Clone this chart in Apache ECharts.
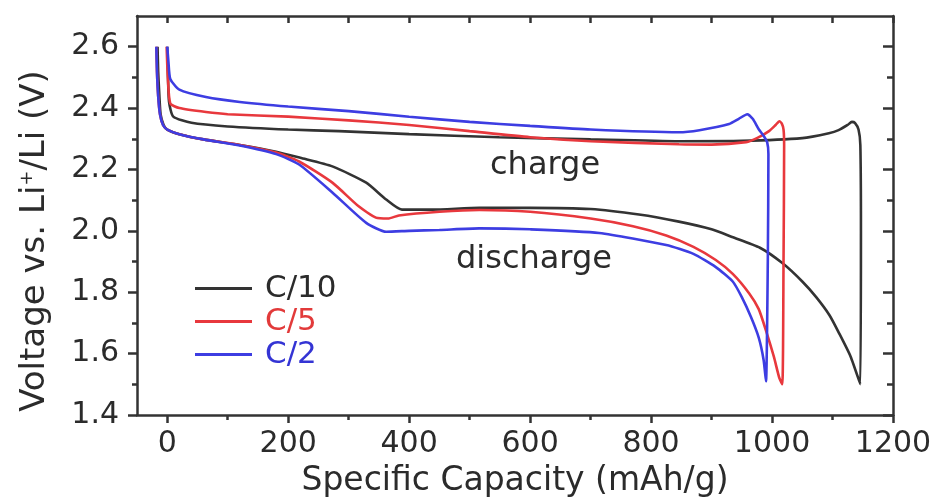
<!DOCTYPE html>
<html>
<head>
<meta charset="utf-8">
<script src="https://cdn.jsdelivr.net/npm/echarts@6/dist/echarts.min.js"></script>
<style>
html,body{margin:0;padding:0;background:#fff;}
#chart{width:939px;height:504px;}
</style>
</head>
<body>
<div id="chart"></div>
<script>
// ---------- data ----------
const seriesNames = ['C/10', 'C/5', 'C/2'];

const c10DischargeCap = [-16, -15, -13, -11, -6, 0, 20, 60, 120, 180, 220, 273, 329, 362, 388, 438, 516, 600, 700, 780, 846, 900, 934, 980, 1017, 1050, 1073, 1095, 1111, 1130, 1146];
const c10DischargeV   = [2.60, 2.52, 2.44, 2.38, 2.345, 2.33, 2.315, 2.298, 2.28, 2.258, 2.238, 2.21, 2.157, 2.102, 2.069, 2.069, 2.075, 2.075, 2.071, 2.053, 2.03, 2.005, 1.98, 1.945, 1.895, 1.835, 1.784, 1.725, 1.666, 1.59, 1.50];
const c10ChargeCap = [1146, 1147, 1146, 1143, 1137, 1132, 1125, 1110, 1094, 1050, 950, 846, 700, 549, 400, 284, 200, 100, 40, 10, 3, 1, 0];
const c10ChargeV   = [1.50, 2.00, 2.28, 2.33, 2.352, 2.355, 2.345, 2.328, 2.318, 2.302, 2.293, 2.292, 2.298, 2.305, 2.315, 2.325, 2.33, 2.34, 2.352, 2.372, 2.42, 2.52, 2.60];

const c5DischargeCap = [-18, -17, -15, -12, -7, 0, 20, 60, 120, 180, 218, 273, 317, 345, 365, 383, 450, 516, 600, 700, 770, 825, 870, 907, 935, 962, 978, 990, 1003, 1012, 1017];
const c5DischargeV   = [2.60, 2.52, 2.44, 2.38, 2.345, 2.33, 2.315, 2.298, 2.28, 2.255, 2.226, 2.157, 2.079, 2.043, 2.040, 2.050, 2.062, 2.068, 2.062, 2.040, 2.015, 1.985, 1.948, 1.905, 1.86, 1.797, 1.745, 1.675, 1.59, 1.521, 1.50];
const c5ChargeCap = [1017, 1019, 1020, 1019, 1016, 1012, 1006, 995, 975, 957, 900, 846, 700, 600, 500, 400, 300, 200, 100, 64, 20, 5, 1, -1];
const c5ChargeV   = [1.50, 1.90, 2.28, 2.33, 2.35, 2.357, 2.345, 2.325, 2.302, 2.289, 2.281, 2.282, 2.292, 2.305, 2.325, 2.345, 2.360, 2.372, 2.38, 2.387, 2.40, 2.415, 2.50, 2.60];

const c2DischargeCap = [-18, -17, -15, -12, -7, 0, 20, 60, 120, 180, 218, 273, 329, 362, 400, 450, 516, 600, 714, 825, 870, 907, 935, 950, 965, 978, 986, 990];
const c2DischargeV   = [2.60, 2.52, 2.44, 2.38, 2.345, 2.33, 2.315, 2.298, 2.278, 2.25, 2.216, 2.125, 2.026, 1.997, 2.0, 2.003, 2.008, 2.005, 1.993, 1.954, 1.925, 1.882, 1.835, 1.784, 1.72, 1.652, 1.58, 1.51];
const c2ChargeCap = [990, 993, 994, 992, 986, 978, 968, 959, 945, 929, 880, 846, 700, 600, 500, 400, 300, 200, 120, 64, 20, 5, 2, 0];
const c2ChargeV   = [1.51, 1.90, 2.25, 2.288, 2.31, 2.331, 2.365, 2.380, 2.365, 2.348, 2.328, 2.321, 2.330, 2.342, 2.355, 2.372, 2.39, 2.405, 2.42, 2.436, 2.46, 2.495, 2.55, 2.60];

const xMajorTicks = [0, 200, 400, 600, 800, 1000, 1200];
const xMinorTicks = [100, 300, 500, 700, 900, 1100];
const yMajorTicks = [1.4, 1.6, 1.8, 2.0, 2.2, 2.4, 2.6];
const yMinorTicks = [1.5, 1.7, 1.9, 2.1, 2.3, 2.5];

// ---------- styling ----------
const FONT = 'DejaVu Sans';
const TEXT = '#2b2b2b';
const AXIS = '#333333';
const colors = ['#333333', '#e8383d', '#3d3de2'];
const textColors = ['#2b2b2b', '#e23a3a', '#3434d4'];
const X_MIN = -50, X_MAX = 1200, Y_MIN = 1.4, Y_MAX = 2.7;

function zip(a, b) { return a.map((v, i) => [v, b[i]]); }
const curves = [
  zip(c10DischargeCap, c10DischargeV).concat(zip(c10ChargeCap, c10ChargeV)),
  zip(c5DischargeCap, c5DischargeV).concat(zip(c5ChargeCap, c5ChargeV)),
  zip(c2DischargeCap, c2DischargeV).concat(zip(c2ChargeCap, c2ChargeV))
];

function xAxisDef(pos, ticks, len, inside, withLine, withLabel) {
  return {
    type: 'value', position: pos, min: X_MIN, max: X_MAX,
    axisLine: { show: withLine, onZero: false, lineStyle: { color: AXIS, width: 2.5 } },
    axisTick: { show: true, customValues: ticks, length: len, inside: inside, lineStyle: { color: AXIS, width: 2.5 } },
    axisLabel: withLabel ? { show: true, customValues: ticks, fontFamily: FONT, fontSize: 30, color: TEXT, margin: 14,
      formatter: v => String(Math.round(v)) } : { show: false },
    splitLine: { show: false }
  };
}
function yAxisDef(pos, ticks, len, inside, withLine, withLabel) {
  return {
    type: 'value', position: pos, min: Y_MIN, max: Y_MAX,
    axisLine: { show: withLine, onZero: false, lineStyle: { color: AXIS, width: 2.5 } },
    axisTick: { show: true, customValues: ticks, length: len, inside: inside, lineStyle: { color: AXIS, width: 2.5 } },
    axisLabel: withLabel ? { show: true, customValues: ticks, fontFamily: FONT, fontSize: 30, color: TEXT, margin: 18,
      formatter: v => Number(v).toFixed(1) } : { show: false },
    splitLine: { show: false }
  };
}

const xMain = xAxisDef('bottom', xMajorTicks, 8, false, true, true);
xMain.name = 'Specific Capacity (mAh/g)';
xMain.nameLocation = 'middle';
xMain.nameGap = 50;
xMain.nameTextStyle = { fontFamily: FONT, fontSize: 33, color: TEXT };

const chart = echarts.init(document.getElementById('chart'), null, { renderer: 'canvas' });
chart.setOption({
  backgroundColor: '#ffffff',
  animation: false,
  grid: { left: 137, right: 46, top: 16, bottom: 89, containLabel: false },
  xAxis: [
    xMain,
    xAxisDef('bottom', xMinorTicks, 5, false, false, false),
    xAxisDef('top', xMajorTicks, 7, true, true, false),
    xAxisDef('top', xMinorTicks, 7, true, false, false)
  ],
  yAxis: [
    yAxisDef('left', yMajorTicks, 9, false, true, true),
    yAxisDef('left', yMinorTicks, 5, false, false, false),
    yAxisDef('right', yMajorTicks, 10, true, true, false),
    yAxisDef('right', yMinorTicks, 6, true, false, false)
  ],
  legend: {
    orient: 'vertical', left: 195, top: 272, padding: 0, itemGap: 0,
    itemWidth: 57, itemHeight: 3, icon: 'rect',
    textStyle: { fontFamily: FONT, fontSize: 31, lineHeight: 33, padding: [0, 0, 0, 8] },
    data: seriesNames.map((n, i) => ({ name: n, textStyle: { color: textColors[i] } }))
  },
  graphic: [
    { type: 'text', x: 35, y: 241, rotation: Math.PI / 2,
      style: { text: 'Voltage vs. Li{sup|+}/Li (V)', fontFamily: FONT, fontSize: 34, fill: TEXT,
        align: 'center', verticalAlign: 'middle',
        rich: { sup: { fontSize: 18, fontFamily: FONT, fill: TEXT, verticalAlign: 'top', padding: [0, 0, 14, 0] } } } },
    { type: 'text', left: 490, top: 150, style: { text: 'charge', fontFamily: FONT, fontSize: 32, fill: TEXT } },
    { type: 'text', left: 456, top: 244, style: { text: 'discharge', fontFamily: FONT, fontSize: 32, fill: TEXT } }
  ],
  series: curves.map((d, i) => ({
    name: seriesNames[i], type: 'line', xAxisIndex: 0, yAxisIndex: 0,
    data: d, showSymbol: false, symbol: 'none', smooth: 0.2,
    lineStyle: { color: colors[i], width: 2.6 }, itemStyle: { color: colors[i] },
    z: 2 + i
  }))
});
</script>
</body>
</html>
